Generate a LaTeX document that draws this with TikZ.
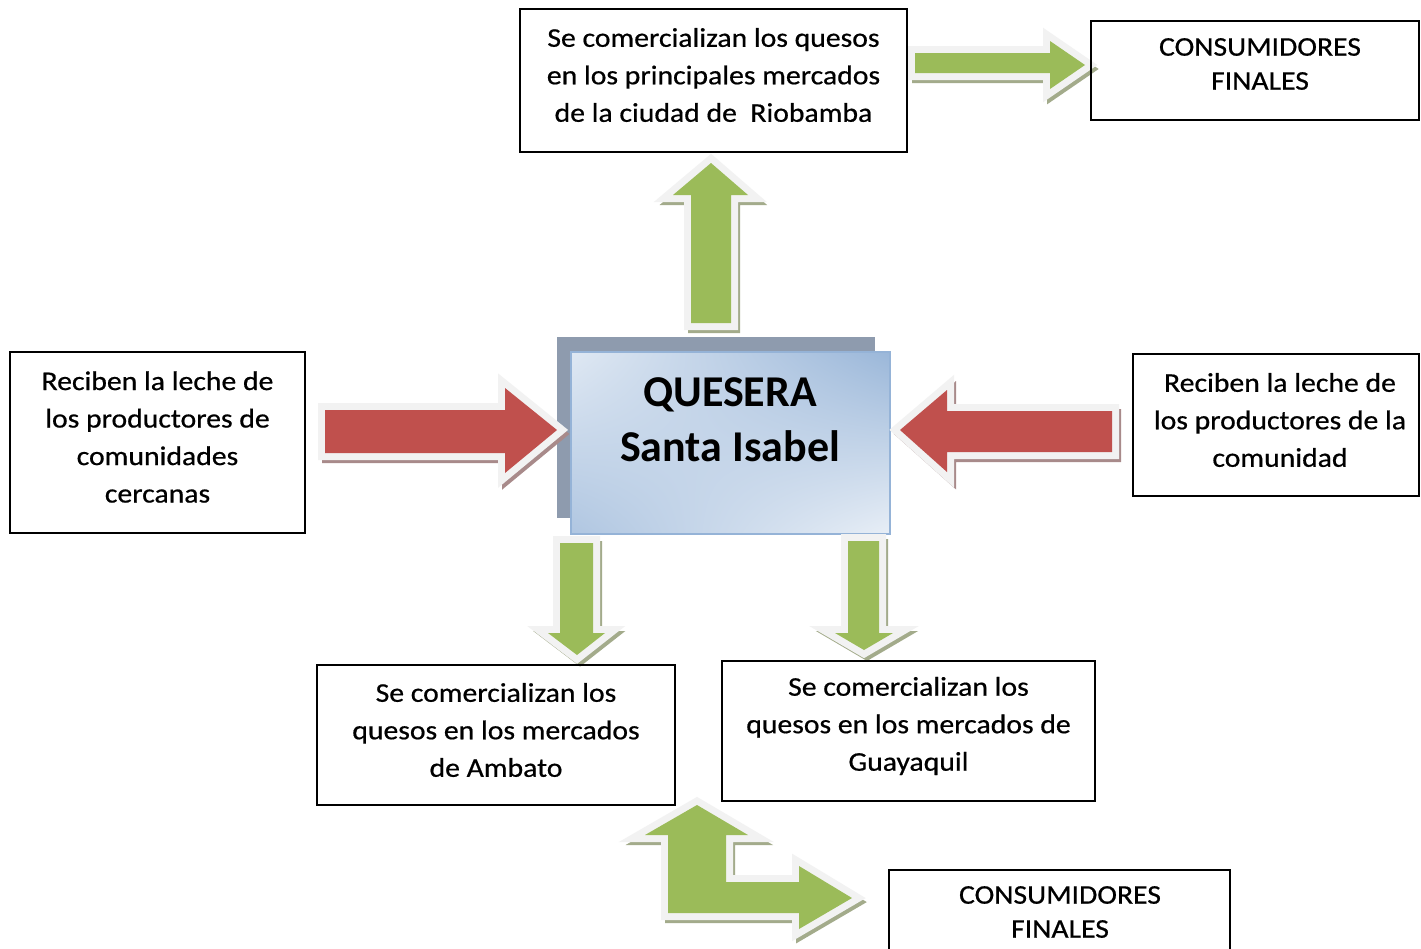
\documentclass[tikz,border=0pt]{standalone}
\usepackage{fontspec}
\setmainfont{Carlito}
\newfontfamily\boxfont[FakeStretch=1.1,FakeBold=0.6]{Carlito}
\usetikzlibrary{shadings}
\definecolor{arrred}{HTML}{C0504D}
\definecolor{arrgreen}{HTML}{9BBB59}
\definecolor{olgray}{HTML}{F2F2F2}
\definecolor{redsh}{HTML}{A88A8A}
\definecolor{greensh}{HTML}{A3AB8B}
\definecolor{cshadow}{HTML}{8E9BAE}
\definecolor{cborder}{HTML}{95B3D7}
\tikzset{
  box/.style={draw=black, line width=1.6pt},
  boxtext/.style={align=center, font=\boxfont\fontsize{27}{37.5}\selectfont, inner sep=0pt},
  constext/.style={align=center, font=\boxfont\fontsize{27}{34}\selectfont, inner sep=0pt},
  blockarrow/.style={line join=miter,
    preaction={draw=#1sh, fill=#1sh, line width=12pt, line join=miter, transform canvas={xshift=3pt,yshift=-4pt}},
    preaction={draw=olgray, line width=14pt, line join=miter},
    fill=arr#1},
}
\begin{document}
\begin{tikzpicture}[x=1pt,y=-1pt]
\useasboundingbox (0,0) rectangle (1421,948);
\fill[white] (0,0) rectangle (1421,948);

% central box
\fill[cshadow] (557,337) rectangle (875,518);
\shade[upper left=cborder!30, upper right=cborder!95, lower left=cborder!75, lower right=cborder!22]
  (571,352) rectangle (890,534);
\node[draw=cborder, line width=1.5pt, minimum width=319pt, minimum height=182pt, inner sep=0pt] (quesera) at (730.5,443) {};
\node[align=center, font=\bfseries\fontsize{44}{55}\selectfont, inner sep=0pt] (qtext) at (730,420) {QUESERA\\Santa Isabel};

% arrows
\path[blockarrow=red] (325,410) -- (505,410) -- (505,388) -- (557,430) -- (505,473) -- (505,453) -- (325,453) -- cycle;
\path[blockarrow=red] (1112,411) -- (947,411) -- (947,390) -- (900,430) -- (947,472) -- (947,452) -- (1112,452) -- cycle;
\path[blockarrow=green] (691,323) -- (691,195) -- (673,195) -- (711,163) -- (748,195) -- (731,195) -- (731,323) -- cycle;
\path[blockarrow=green] (915,53) -- (1050,53) -- (1050,41) -- (1085,65) -- (1050,89) -- (1050,73) -- (915,73) -- cycle;
\path[blockarrow=green] (560,543) -- (593,543) -- (593,633) -- (605,633) -- (577,655) -- (548,633) -- (560,633) -- cycle;
\path[blockarrow=green] (848,541) -- (879,541) -- (879,633) -- (893,633) -- (864,650) -- (835,633) -- (848,633) -- cycle;
\path[blockarrow=green] (668,913) -- (668,835) -- (645,835) -- (697,805) -- (748,835) -- (726,835) -- (726,882) -- (799,882) -- (799,866) -- (852,898) -- (799,929) -- (799,913) -- cycle;

% boxes
\draw[box] (520,9) rectangle (907,152);
\node[boxtext] (riobamba) at (713.5,75) {Se comercializan los quesos\\en los principales mercados\\de la ciudad de\ \ Riobamba};

\draw[box] (1091,21) rectangle (1419,120);
\node[constext] (consa) at (1260,64) {CONSUMIDORES\\FINALES};

\draw[box] (10,352) rectangle (305,533);
\node[boxtext] (izq) at (157.5,437) {Reciben la leche de\\los productores de\\comunidades\\cercanas};

\draw[box] (1133,354) rectangle (1419,496);
\node[boxtext] (der) at (1280,420) {Reciben la leche de\\los productores de la\\comunidad};

\draw[box] (317,665) rectangle (675,805);
\node[boxtext] (ambato) at (496,730) {Se comercializan los\\quesos en los mercados\\de Ambato};

\draw[box] (722,661) rectangle (1095,801);
\node[boxtext] (guayaquil) at (908.5,726) {Se comercializan los\\quesos en los mercados de\\Guayaquil};

\draw[box] (889,870) rectangle (1230,970);
\node[constext] (consb) at (1060,912) {CONSUMIDORES\\FINALES};
\end{tikzpicture}
\end{document}
